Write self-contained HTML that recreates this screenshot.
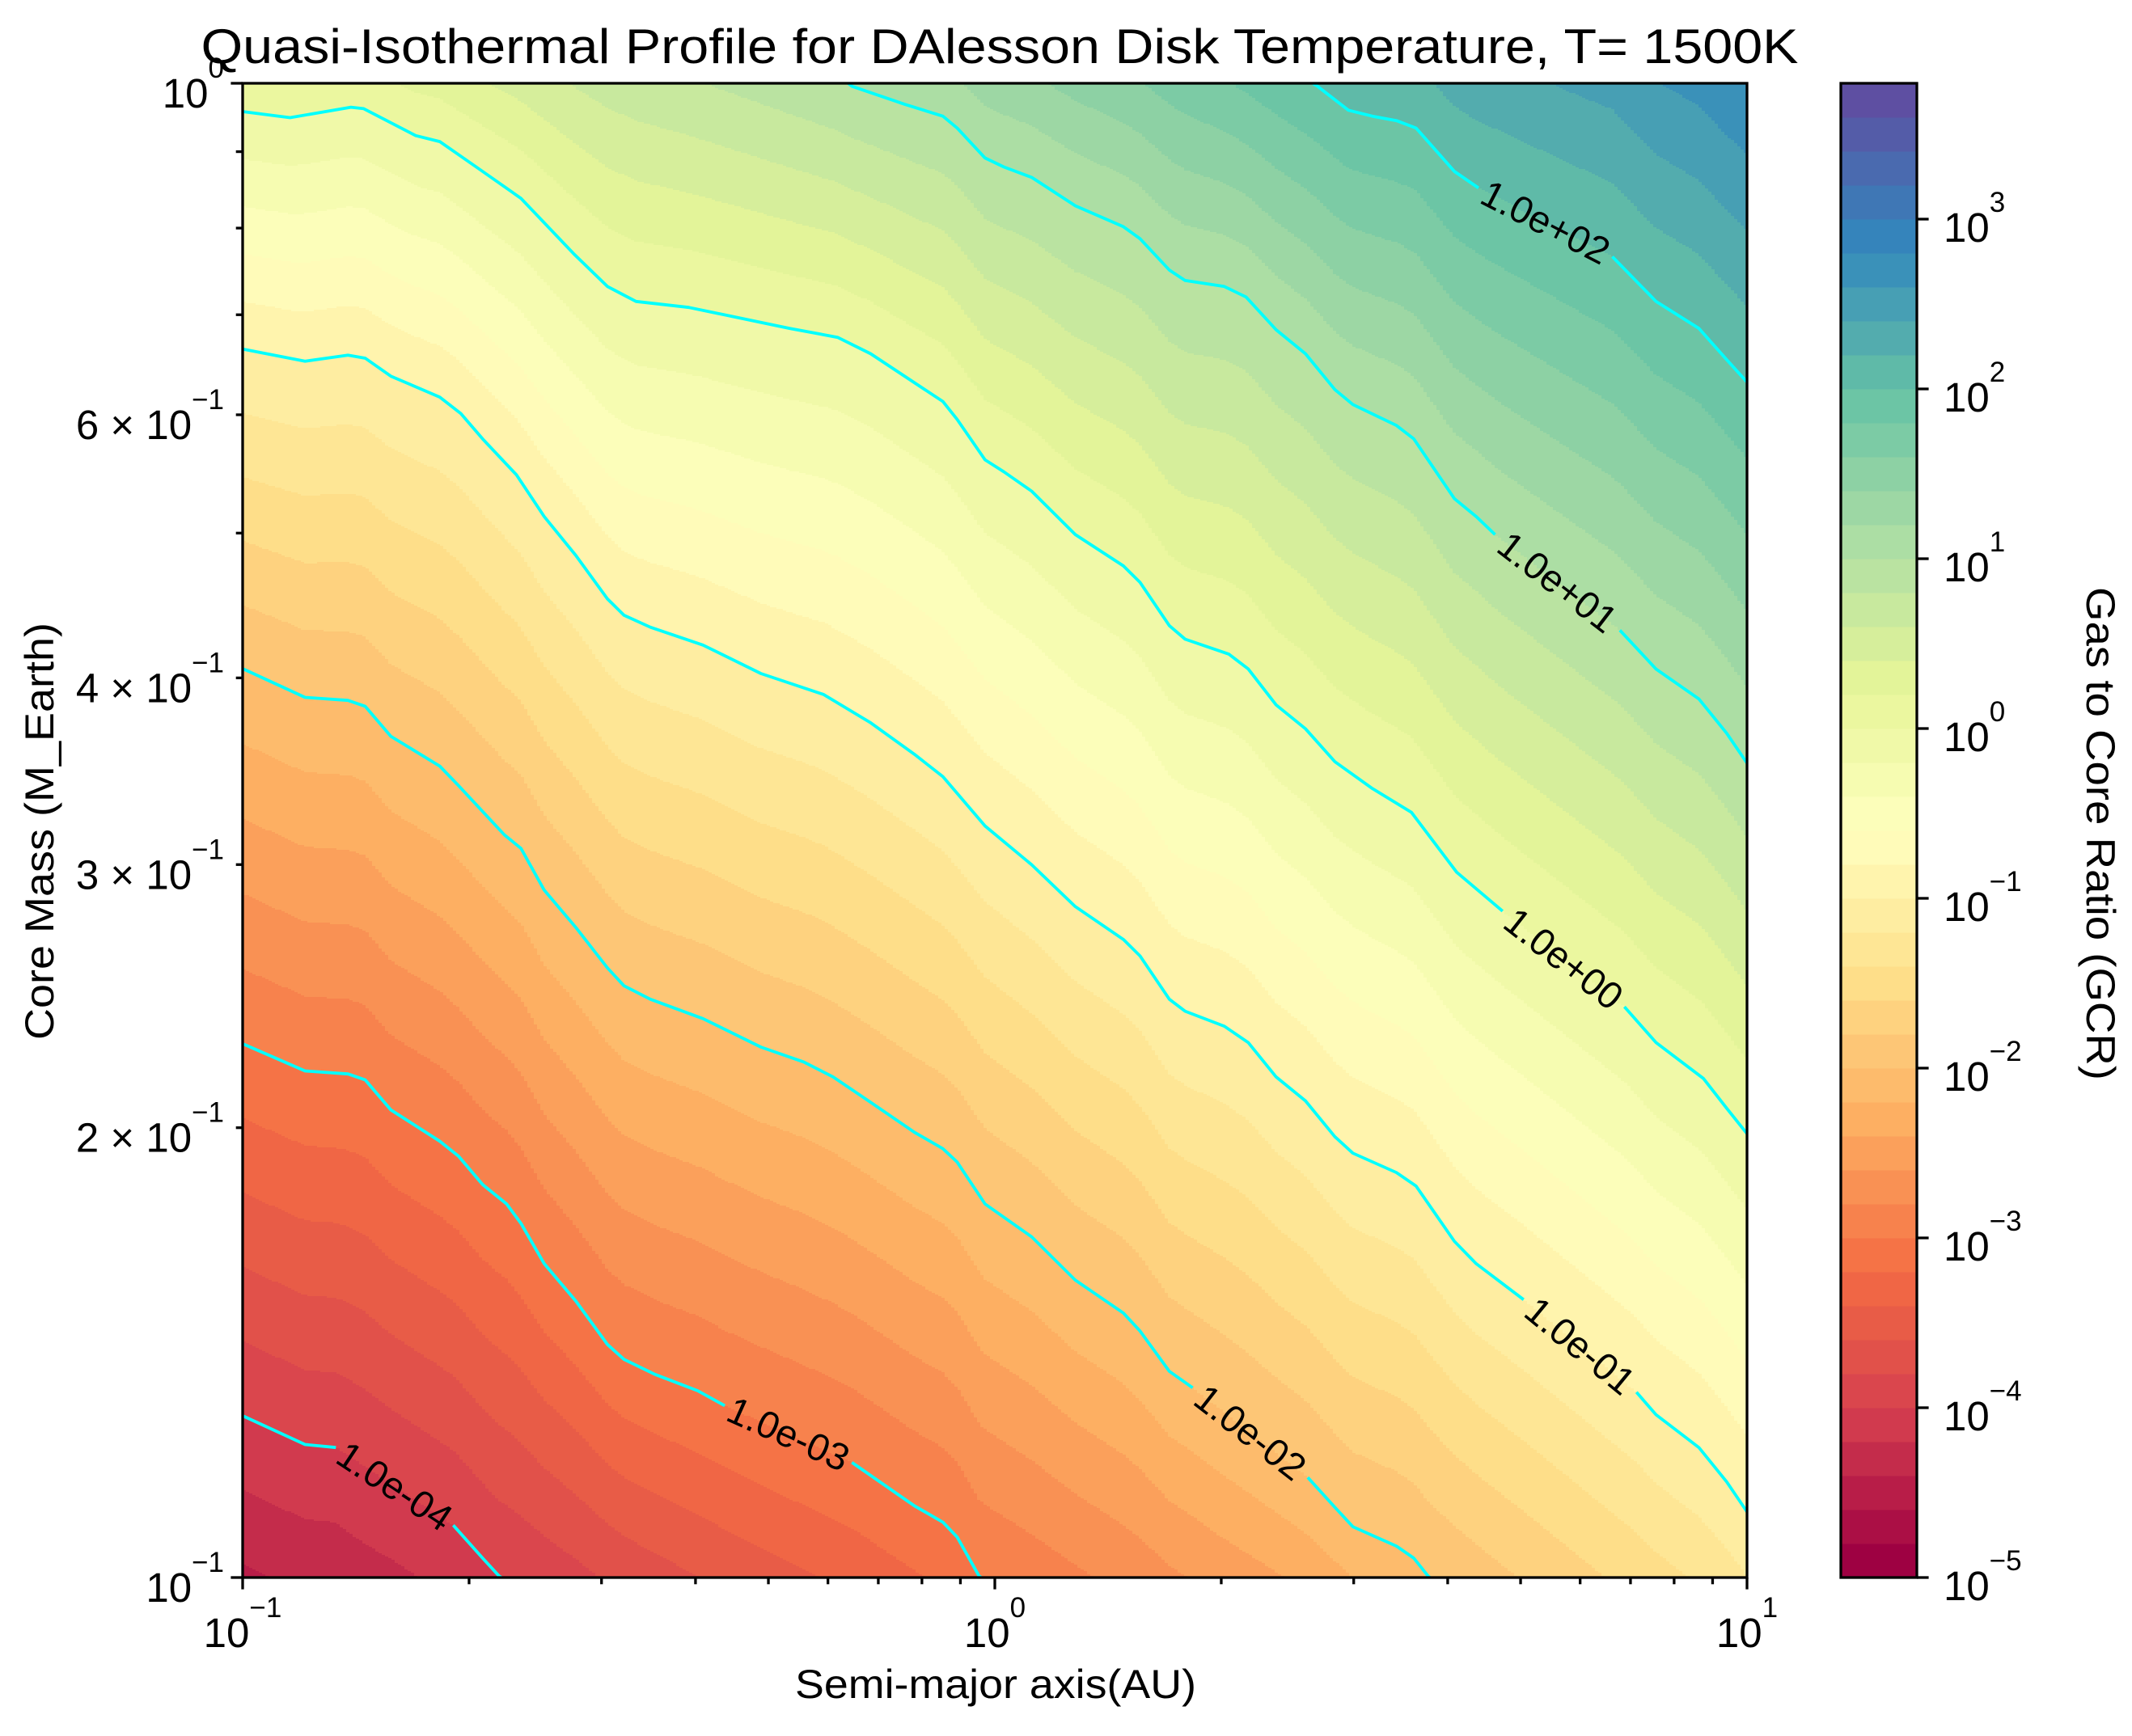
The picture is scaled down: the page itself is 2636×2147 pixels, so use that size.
<!DOCTYPE html>
<html>
<head>
<meta charset="utf-8">
<style>
html,body{margin:0;padding:0;background:#fff;width:2636px;height:2147px;overflow:hidden;}
svg{display:block;overflow:hidden;}
text{font-family:"Liberation Sans","DejaVu Sans",sans-serif;fill:#000;}
</style>
</head>
<body>
<svg id="chart" width="2636" height="2147" viewBox="0 0 2636 2147" xmlns="http://www.w3.org/2000/svg">
  <text x="1236" y="78" font-size="60" text-anchor="middle" textLength="1975" lengthAdjust="spacingAndGlyphs">Quasi-Isothermal Profile for DAlesson Disk Temperature, T= 1500K</text>
  <g id="fill" shape-rendering="crispEdges"></g>
  <g id="lines"></g>
  <g id="labels"></g>
  <rect x="300" y="103" width="1860" height="1848" fill="none" stroke="#000" stroke-width="3.3"/>
  <g id="axes"></g>
  <g id="cbar" shape-rendering="crispEdges"></g>
  <rect x="2276" y="103" width="94" height="1848" fill="none" stroke="#000" stroke-width="3.3"/>
  <g id="cbaxis"></g>
  <text x="1231" y="2100" font-size="50" text-anchor="middle" textLength="496" lengthAdjust="spacingAndGlyphs">Semi-major axis(AU)</text>
  <text transform="translate(66,1028) rotate(-90)" font-size="50" text-anchor="middle" textLength="516" lengthAdjust="spacingAndGlyphs">Core Mass (M_Earth)</text>
  <text transform="translate(2580,1031) rotate(90)" font-size="50" text-anchor="middle" textLength="610" lengthAdjust="spacingAndGlyphs">Gas to Core Ratio (GCR)</text>
</svg>
<script>
// ---- data (log10 a, log10 M) points along each labelled contour ----
const contourLevels = [-4, -3, -2, -1, 0, 1, 2];
const contourM4 = [[-0.999,-0.892],[-0.917,-0.911],[-0.876,-0.913],[-0.720,-0.965],[-0.681,-0.987],[-0.659,-0.999],[-0.4,-1.08],[1.0,-1.5]];
const contourM3 = [[-0.999,-0.643],[-0.917,-0.661],[-0.860,-0.663],[-0.837,-0.667],[-0.803,-0.687],[-0.738,-0.708],[-0.713,-0.718],[-0.681,-0.737],[-0.649,-0.750],[-0.630,-0.763],[-0.599,-0.790],[-0.557,-0.815],[-0.515,-0.844],[-0.493,-0.854],[-0.452,-0.864],[-0.395,-0.875],[-0.359,-0.885],[-0.190,-0.923],[-0.107,-0.952],[-0.069,-0.963],[-0.050,-0.973],[-0.021,-0.999],[0.3,-1.1],[1.0,-1.25]];
const contourM2 = [[-0.999,-0.392],[-0.917,-0.411],[-0.860,-0.413],[-0.837,-0.417],[-0.803,-0.437],[-0.738,-0.457],[-0.713,-0.470],[-0.652,-0.503],[-0.630,-0.512],[-0.599,-0.540],[-0.557,-0.565],[-0.515,-0.592],[-0.493,-0.604],[-0.458,-0.613],[-0.388,-0.626],[-0.311,-0.645],[-0.254,-0.655],[-0.215,-0.665],[-0.165,-0.682],[-0.107,-0.702],[-0.069,-0.713],[-0.050,-0.722],[-0.013,-0.750],[0.049,-0.772],[0.107,-0.801],[0.171,-0.823],[0.193,-0.835],[0.232,-0.862],[0.263,-0.873],[0.416,-0.933],[0.452,-0.953],[0.476,-0.966],[0.534,-0.979],[0.557,-0.987],[0.576,-0.999],[1.0,-1.17]];
const contourM1 = [[-0.999,-0.178],[-0.917,-0.186],[-0.860,-0.182],[-0.837,-0.184],[-0.803,-0.196],[-0.738,-0.210],[-0.710,-0.221],[-0.681,-0.238],[-0.636,-0.262],[-0.599,-0.290],[-0.557,-0.316],[-0.515,-0.345],[-0.493,-0.356],[-0.458,-0.364],[-0.388,-0.376],[-0.311,-0.395],[-0.228,-0.409],[-0.165,-0.428],[-0.107,-0.449],[-0.069,-0.464],[-0.013,-0.497],[0.049,-0.523],[0.107,-0.551],[0.171,-0.573],[0.193,-0.584],[0.232,-0.613],[0.253,-0.621],[0.305,-0.631],[0.337,-0.642],[0.374,-0.665],[0.413,-0.681],[0.452,-0.705],[0.476,-0.716],[0.534,-0.729],[0.560,-0.738],[0.611,-0.775],[0.640,-0.790],[0.703,-0.814],[0.853,-0.876],[0.879,-0.891],[0.936,-0.913],[0.973,-0.936],[1.000,-0.956]];
const contour0 = [[-0.999,-0.019],[-0.937,-0.023],[-0.856,-0.016],[-0.839,-0.017],[-0.770,-0.035],[-0.738,-0.039],[-0.681,-0.059],[-0.630,-0.077],[-0.560,-0.114],[-0.515,-0.136],[-0.477,-0.146],[-0.407,-0.150],[-0.273,-0.164],[-0.209,-0.170],[-0.165,-0.181],[-0.069,-0.213],[-0.050,-0.225],[-0.013,-0.252],[0.012,-0.260],[0.049,-0.273],[0.107,-0.302],[0.171,-0.323],[0.193,-0.334],[0.232,-0.363],[0.253,-0.372],[0.311,-0.382],[0.337,-0.392],[0.374,-0.416],[0.413,-0.432],[0.452,-0.454],[0.502,-0.472],[0.554,-0.488],[0.614,-0.528],[0.675,-0.554],[0.837,-0.618],[0.879,-0.642],[0.942,-0.666],[0.973,-0.686],[1.000,-0.703]];
const contourP1 = [[-1.0,0.15],[-0.6,0.08],[-0.195,0.000],[-0.190,-0.002],[-0.120,-0.014],[-0.069,-0.022],[-0.050,-0.030],[-0.013,-0.050],[0.012,-0.056],[0.049,-0.063],[0.107,-0.082],[0.171,-0.096],[0.193,-0.104],[0.232,-0.125],[0.253,-0.132],[0.305,-0.136],[0.334,-0.143],[0.374,-0.165],[0.413,-0.181],[0.452,-0.205],[0.476,-0.215],[0.534,-0.229],[0.557,-0.238],[0.611,-0.278],[0.640,-0.290],[0.665,-0.302],[0.831,-0.366],[0.879,-0.392],[0.936,-0.412],[0.973,-0.435],[1.000,-0.455]];
const contourP2 = [[-1.0,0.34],[-0.3,0.2],[0.2,0.07],[0.429,-0.002],[0.470,-0.018],[0.502,-0.022],[0.534,-0.025],[0.560,-0.030],[0.611,-0.059],[0.643,-0.070],[0.821,-0.116],[0.879,-0.146],[0.936,-0.164],[0.973,-0.185],[1.000,-0.200]];
const contourLabels = ["1.0e-04","1.0e-03","1.0e-02","1.0e-01","1.0e+00","1.0e+01","1.0e+02"];
const labelGaps = [[-0.876,-0.720],[-0.359,-0.190],[0.263,0.416],[0.703,0.853],[0.675,0.837],[0.665,0.831],[0.643,0.821]];
const fillLevelMin = -5, fillLevelStep = 0.2, fillBandCount = 44;
const cbTickExps = [-5,-4,-3,-2,-1,0,1,2,3];
const xTickExps = [-1,0,1];
const yTickValues = [1,0.6,0.4,0.3,0.2,0.1];
const yTickLabels = [["","10","0"],["6 × ","10","−1"],["4 × ","10","−1"],["3 × ","10","−1"],["2 × ","10","−1"],["","10","−1"]];
const yMinorValues = [0.5,0.7,0.8,0.9];

const contours = [contourM4, contourM3, contourM2, contourM1, contour0, contourP1, contourP2];
const NS = "http://www.w3.org/2000/svg";
const X0 = 300, X1 = 2160, Y0 = 103, Y1 = 1951;
function xs(la){ return X0 + (la + 1) / 2 * (X1 - X0); }
function ys(lm){ return Y0 + (0 - lm) * (Y1 - Y0); }
const cbMin = fillLevelMin, cbMax = fillLevelMin + fillLevelStep * fillBandCount;
function cbY(lg){ return Y1 - (lg - cbMin) / (cbMax - cbMin) * (Y1 - Y0); }

const spectral = ["#9e0142","#d53e4f","#f46d43","#fdae61","#fee08b","#ffffbf","#e6f598","#abdda4","#66c2a5","#3288bd","#5e4fa2"];
function hex(c){ return [parseInt(c.substr(1,2),16),parseInt(c.substr(3,2),16),parseInt(c.substr(5,2),16)]; }
function cmap(t){
  t = Math.max(0, Math.min(1, t));
  const p = t * (spectral.length - 1), i = Math.min(spectral.length - 2, Math.floor(p)), f = p - i;
  const a = hex(spectral[i]), b = hex(spectral[i+1]);
  return "rgb(" + [0,1,2].map(k => Math.round(a[k] + (b[k]-a[k]) * f)).join(",") + ")";
}
function bandColor(i){ return cmap(i / (fillBandCount - 1)); }

function lmAt(c, la){
  if (la < c[0][0] || la > c[c.length-1][0]) return null;
  for (let i = 0; i < c.length - 1; i++){
    if (la >= c[i][0] && la <= c[i+1][0]){
      const f = (la - c[i][0]) / ((c[i+1][0] - c[i][0]) || 1);
      return c[i][1] + f * (c[i+1][1] - c[i][1]);
    }
  }
  return null;
}
function levelAt(pts, lm){
  let i = 0;
  if (lm <= pts[0][0]) i = 0;
  else if (lm >= pts[pts.length-1][0]) i = pts.length - 2;
  else { while (i < pts.length - 2 && lm > pts[i+1][0]) i++; }
  const a = pts[i], b = pts[i+1];
  return a[1] + (lm - a[0]) / (b[0] - a[0]) * (b[1] - a[1]);
}
// clip a polyline to lm in [-1, 0], returning list of segments
function clipPolyline(s){
  const out = []; let cur = [];
  const inside = p => p[1] <= 0 && p[1] >= -1;
  for (let i = 0; i < s.length; i++){
    const p = s[i];
    if (i > 0){
      const q = s[i-1];
      [0, -1].forEach(b => {
        if ((q[1] - b) * (p[1] - b) < 0){
          const f = (b - q[1]) / (p[1] - q[1]);
          const ip = [q[0] + f * (p[0] - q[0]), b];
          if (inside(q)) { cur.push(ip); out.push(cur); cur = []; }
          else { cur = [ip]; }
        }
      });
    }
    if (inside(p)) cur.push(p);
  }
  if (cur.length) out.push(cur);
  return out.filter(seg => seg.length >= 2);
}

// ---- filled bands ----
const fillG = document.getElementById("fill");
const colW = 4, rowH = 2;
for (let px = X0; px < X1; px += colW){
  const la = -1 + 2 * (px + colW/2 - X0) / (X1 - X0);
  const pts = [];
  contours.forEach((c, k) => { const v = lmAt(c, la); if (v !== null) pts.push([v, contourLevels[k]]); });
  pts.sort((a, b) => a[0] - b[0]);
  let runStart = Y0, runBand = null;
  for (let py = Y0; py <= Y1; py += rowH){
    let band = null;
    if (py < Y1){
      const lm = -(py + rowH/2 - Y0) / (Y1 - Y0);
      const lev = levelAt(pts, lm);
      band = Math.max(0, Math.min(fillBandCount - 1, Math.floor((lev - fillLevelMin) / fillLevelStep)));
    }
    if (band !== runBand){
      if (runBand !== null){
        const r = document.createElementNS(NS, "rect");
        
        
        r.setAttribute("x", px); r.setAttribute("y", runStart);
        r.setAttribute("width", Math.min(colW + 0.6, X1 - px));
        r.setAttribute("height", Math.min(py + 0.6, Y1) - runStart);
        r.setAttribute("fill", bandColor(runBand));
        fillG.appendChild(r);
      }
      runBand = band; runStart = py;
    }
  }
}

// ---- contour lines & labels ----
const linesG = document.getElementById("lines"), labelsG = document.getElementById("labels");
contours.forEach((c, k) => {
  const gap = labelGaps[k];
  const segs = [[], []];
  c.forEach(p => { if (p[0] <= gap[0]) segs[0].push(p); else if (p[0] >= gap[1]) segs[1].push(p); });
  segs.forEach(s0 => {
    clipPolyline(s0).forEach(s => {
      const path = document.createElementNS(NS, "path");
      
      
      path.setAttribute("d", s.map((p, i) => (i ? "L" : "M") + xs(p[0]).toFixed(1) + "," + ys(p[1]).toFixed(1)).join(""));
      path.setAttribute("fill", "none"); path.setAttribute("stroke", "#00ffff"); path.setAttribute("stroke-width", "3.8");
      path.setAttribute("stroke-linejoin", "round");
      linesG.appendChild(path);
    });
  });
  const la0 = gap[0], la1 = gap[1], m0 = lmAt(c, la0), m1 = lmAt(c, la1);
  const x0 = xs(la0), y0 = ys(m0), x1 = xs(la1), y1 = ys(m1);
  const ang = Math.atan2(y1 - y0, x1 - x0) * 180 / Math.PI;
  const t = document.createElementNS(NS, "text");
  
  
  t.setAttribute("transform", "translate(" + ((x0+x1)/2).toFixed(1) + "," + ((y0+y1)/2).toFixed(1) + ") rotate(" + ang.toFixed(1) + ")");
  t.setAttribute("text-anchor", "middle"); t.setAttribute("dy", "16"); t.setAttribute("font-size", "47");
  t.textContent = contourLabels[k];
  labelsG.appendChild(t);
});

// ---- axes ----
const axG = document.getElementById("axes");
function line(g, x1, y1, x2, y2, name){
  const l = document.createElementNS(NS, "line");
  
  
  l.setAttribute("x1", x1); l.setAttribute("y1", y1); l.setAttribute("x2", x2); l.setAttribute("y2", y2);
  l.setAttribute("stroke", "#000"); l.setAttribute("stroke-width", "3.3");
  g.appendChild(l);
}
function powLabel(g, x, y, anchor, pre, base, sup, name){
  const t = document.createElementNS(NS, "text");
  
  
  t.setAttribute("x", x); t.setAttribute("y", y); t.setAttribute("text-anchor", anchor); t.setAttribute("font-size", "51");
  const a = document.createElementNS(NS, "tspan"); a.textContent = pre + base; t.appendChild(a);
  const b = document.createElementNS(NS, "tspan"); b.setAttribute("dy", "-37"); b.setAttribute("font-size", "35"); b.textContent = sup; t.appendChild(b);
  g.appendChild(t);
}
xTickExps.forEach(e => {
  const x = xs(e);
  line(axG, x, Y1, x, Y1 + 14.6, "x-major-tick");
  powLabel(axG, x, 2037, "middle", "", "10", e < 0 ? "−" + (-e) : String(e), "x-tick-label");
});
[-1, 0].forEach(d => { for (let k = 2; k <= 9; k++){ const x = xs(d + Math.log10(k)); line(axG, x, Y1, x, Y1 + 8.3, "x-minor-tick"); } });
yTickValues.forEach((v, i) => {
  const y = ys(Math.log10(v));
  const major = (v === 1 || v === 0.1);
  line(axG, X0 - (major ? 14.6 : 8.3), y, X0, y, "y-tick");
  const L = yTickLabels[i];
  powLabel(axG, 277, y + 30, "end", L[0], L[1], L[2], "y-tick-label");
});
yMinorValues.forEach(v => { const y = ys(Math.log10(v)); line(axG, X0 - 8.3, y, X0, y, "y-minor-tick"); });

// ---- colorbar ----
const cbG = document.getElementById("cbar");
for (let i = 0; i < fillBandCount; i++){
  const lo = fillLevelMin + i * fillLevelStep, hi = lo + fillLevelStep;
  const r = document.createElementNS(NS, "rect");
  
  
  r.setAttribute("x", 2276); r.setAttribute("y", cbY(hi)); r.setAttribute("width", 94);
  r.setAttribute("height", Math.min(cbY(lo) + 0.6, Y1) - cbY(hi)); r.setAttribute("fill", bandColor(i));
  cbG.appendChild(r);
}
const cbA = document.getElementById("cbaxis");
cbTickExps.forEach(e => {
  const y = cbY(e);
  line(cbA, 2370, y, 2384.6, y, "colorbar-tick");
  powLabel(cbA, 2403, y + 28, "start", "", "10", e < 0 ? "−" + (-e) : String(e), "colorbar-tick-label");
});
</script>
</body>
</html>
